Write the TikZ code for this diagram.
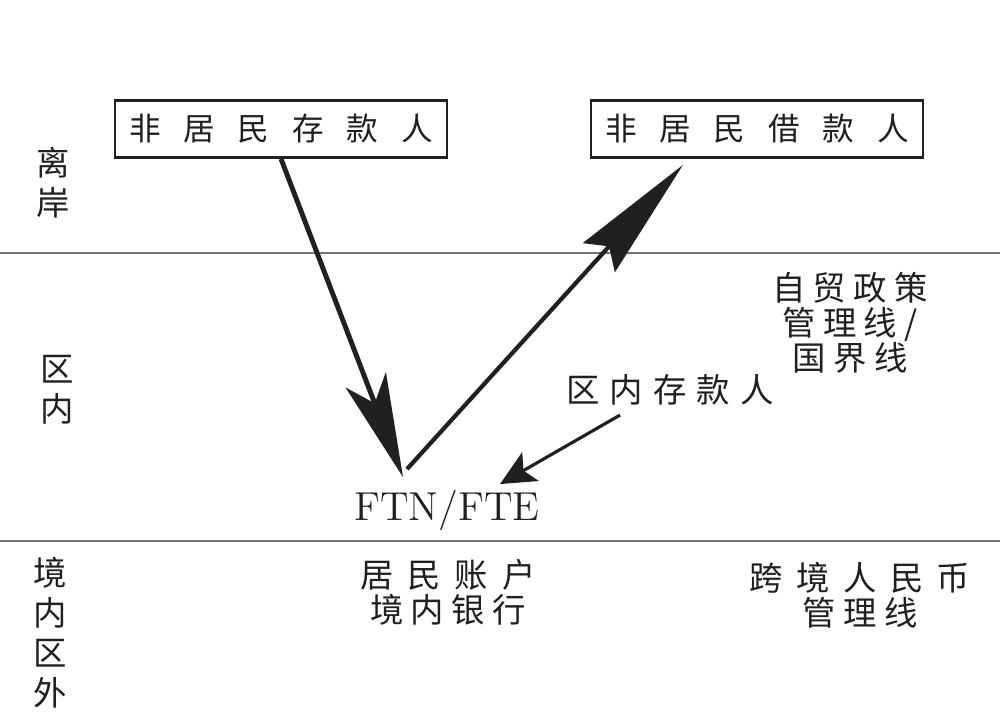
\documentclass[tikz,border=0pt]{standalone}
\usepackage{fontspec}
\newfontfamily\cjk{Noto Sans CJK SC}
\usetikzlibrary{arrows.meta, positioning}
\definecolor{linegray}{rgb}{0.45, 0.45, 0.45}
\definecolor{ink}{rgb}{0.13, 0.12, 0.13}
\newcommand{\track}[1]{\spaceskip=#1em\relax}

\begin{document}
\begin{tikzpicture}[
	zone/.style={align=center, inner sep=0pt, text=ink, font=\cjk\fontsize{9.5}{11.4}\selectfont},
	party/.style={draw=ink, line width=0.8pt, minimum width=3.32cm, minimum height=0.57cm, inner sep=0pt, text=ink, font=\cjk\fontsize{9}{11}\selectfont},
	note/.style={align=center, inner sep=0pt, text=ink, font=\cjk\fontsize{9.5}{#1}\selectfont},
	flowin/.style={draw=ink, line width=1.4pt, -{Stealth[length=10.4mm, width=4.3mm, inset=2.5mm]}},
	flowout/.style={draw=ink, line width=1.2pt, -{Stealth[length=12.5mm, width=4.3mm, inset=1.5mm]}},
	flowlocal/.style={draw=ink, line width=0.9pt, -{Stealth[length=3.5mm, width=3.3mm, inset=0.8mm]}}
	]
	\useasboundingbox (0,0) rectangle (10,7.2);
	
	% zone boundaries
	\foreach \y in {4.67,1.79}{
		\draw [linegray, line width=0.6pt] (0,\y)--(10,\y);
	}
	
	\node [zone] (offshore) at (0.53,5.37) {离\\岸};
	\node [zone] (inzone) at (0.57,3.30) {区\\内};
	\node [zone] (onshore) at (0.50,0.87) {境\\内\\区\\外};
	
	\node [party] (dep) at (2.81,5.91) {\track{0.72}非 居 民 存 款 人};
	\node [party] (bor) at (7.57,5.91) {\track{0.72}非 居 民 借 款 人};
	
	\node [inner sep=0pt, text=ink, font=\fontsize{11.5}{13}\selectfont] (ftn) at (4.47,2.10) {FTN/FTE};
	\node [note=11] (local) at (6.70,3.30) {\track{0.3}区 内 存 款 人};
	\node [note=10] (ftaline) at (8.50,3.97) {\track{0.22}自 贸 政 策\\管 理 线 /\\国 界 线};
	\node [note=8.5] (resident) at (4.48,1.28) {\track{0.42}居 民 账 户\\境 内 银 行};
	\node [note=10] (rmbline) at (8.60,1.25) {\track{0.4}跨 境 人 民 币\\管 理 线};
	
	\draw [flowin] (dep.south) -- ([xshift=-4.4mm, yshift=1.2mm]ftn.north);
	\draw [flowout] ([xshift=-4.0mm, yshift=2.0mm]ftn.north) -- ([xshift=-7.4mm, yshift=-0.6mm]bor.south);
	\draw [flowlocal] ([xshift=-5.0mm, yshift=-0.9mm]local.south) -- ([xshift=5.3mm, yshift=0.5mm]ftn.north);
\end{tikzpicture}
\end{document}
